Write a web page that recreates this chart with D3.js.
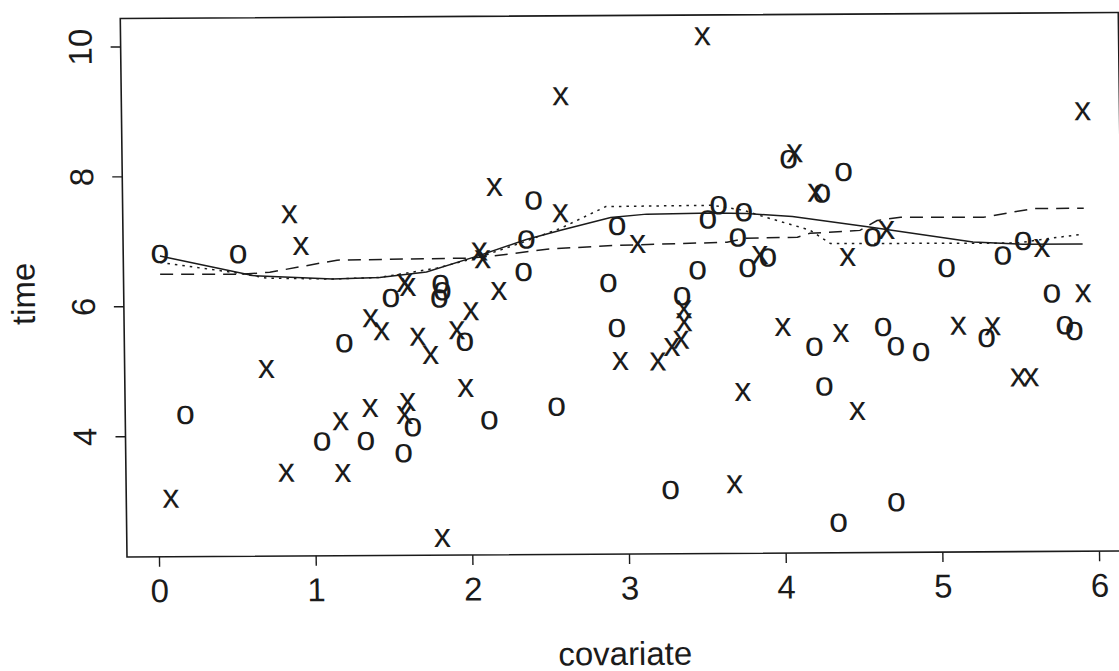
<!DOCTYPE html>
<html>
<head>
<meta charset="utf-8">
<script src="https://cdn.jsdelivr.net/npm/d3@7"></script>
<style>
  html, body { margin: 0; padding: 0; background: #ffffff; }
  svg { display: block; }
</style>
</head>
<body>
<svg id="chart" width="1119" height="671"></svg>
<script>
// Observations marked "o"
const oCov  = [0.03, 0.18, 0.53, 1.05, 1.20, 1.33, 1.50, 1.82, 1.83, 1.81, 1.63, 1.57, 1.97, 2.12,
               2.42, 2.37, 2.35, 2.55, 2.89, 2.94, 2.95, 3.27, 3.36, 3.46, 3.53, 3.60, 3.76, 3.72,
               3.78, 3.91, 4.05, 4.20, 4.26, 4.26, 4.34, 4.40, 4.58, 4.64, 4.72, 4.71, 4.88, 5.05,
               5.30, 5.41, 5.54, 5.72, 5.80, 5.86];
const oTime = [6.80, 4.32, 6.79, 3.90, 5.41, 3.90, 6.10, 6.31, 6.20, 6.09, 4.11, 3.71, 5.42, 4.21,
               7.59, 6.99, 6.49, 4.41, 6.31, 5.62, 7.19, 3.12, 6.10, 6.50, 7.28, 7.50, 7.39, 7.00,
               6.53, 6.69, 8.20, 5.31, 7.67, 4.70, 2.60, 8.00, 6.99, 5.61, 5.31, 2.91, 5.22, 6.51,
               5.43, 6.70, 6.92, 6.11, 5.62, 5.53];

// Observations marked "x"
const xCov  = [0.08, 0.70, 0.86, 0.93, 0.82, 1.17, 1.18, 1.36, 1.37, 1.44, 1.59, 1.61, 1.67, 1.75,
               1.60, 1.58, 1.92, 2.01, 1.97, 1.81, 2.07, 2.09, 2.19, 2.17, 2.60, 2.59, 2.96, 3.08,
               3.20, 3.29, 3.35, 3.37, 3.37, 3.51, 3.74, 3.68, 3.86, 4.00, 4.09, 4.22, 4.37, 4.42,
               4.47, 4.67, 5.12, 5.34, 5.66, 5.50, 5.58, 5.92, 5.93];
const xTime = [3.03, 5.02, 7.40, 6.91, 3.42, 4.21, 3.41, 4.41, 5.79, 5.59, 6.33, 6.27, 5.50, 5.22,
               4.50, 4.30, 5.60, 5.89, 4.71, 2.40, 6.81, 6.69, 6.20, 7.80, 9.19, 7.39, 5.11, 6.91,
               5.10, 5.32, 5.43, 5.70, 5.90, 10.10, 4.62, 3.20, 6.73, 5.62, 8.29, 7.68, 5.52, 6.69,
               4.32, 7.10, 5.62, 5.61, 6.81, 4.82, 4.82, 6.11, 8.91];

// Smoothed curves
const solidCov   = [0.03, 0.62, 1.13, 1.43, 1.73, 2.07, 2.37, 2.59, 2.91, 3.14, 3.56, 3.78, 4.07, 4.56, 5.22, 5.54, 5.92];
const solidTime  = [6.77, 6.46, 6.40, 6.42, 6.50, 6.75, 6.99, 7.13, 7.32, 7.37, 7.38, 7.37, 7.32, 7.15, 6.91, 6.87, 6.87];

const dashedCov  = [0.03, 0.54, 0.73, 1.16, 2.01, 2.16, 2.50, 2.92, 3.65, 3.77, 4.10, 4.18, 4.50, 4.61, 4.76, 5.29, 5.46, 5.61, 5.93];
const dashedTime = [6.49, 6.48, 6.51, 6.69, 6.71, 6.74, 6.84, 6.89, 6.93, 6.99, 7.00, 7.06, 7.10, 7.25, 7.30, 7.29, 7.36, 7.42, 7.42];

const dottedCov  = [0.03, 0.50, 0.71, 1.13, 1.43, 1.80, 2.09, 2.35, 2.59, 2.88, 3.56, 3.76, 3.86, 4.18, 4.31, 5.50, 5.71, 5.92];
const dottedTime = [6.67, 6.51, 6.42, 6.40, 6.42, 6.56, 6.74, 6.95, 7.16, 7.49, 7.50, 7.42, 7.34, 7.11, 6.90, 6.89, 6.96, 7.02];

const xTicks = [0, 1, 2, 3, 4, 5, 6];
const yTicks = [4, 6, 8, 10];
const xTitle = "covariate";
const yTitle = "time";

const ink = "#1b1b1b";
const font = "'Liberation Sans', Arial, Helvetica, sans-serif";
const labelSize = 33;
const glyphSize = 34;

const svg = d3.select("#chart");

// the whole figure sits slightly askew on the page
const root = svg.append("g")
  .attr("transform", "matrix(1,-0.006,0.0125,1,-6.96,0.76)");

const x = d3.scaleLinear().domain([-0.204, 6.166]).range([127, 1125]);
const y = d3.scaleLinear().domain([2.14, 10.43]).range([557, 18.5]);

// plot frame
root.append("rect")
  .attr("x", x(-0.204)).attr("y", y(10.43))
  .attr("width", x(6.166) - x(-0.204)).attr("height", y(2.14) - y(10.43))
  .attr("fill", "none").attr("stroke", ink).attr("stroke-width", 1.6);

// bottom axis
const xAxis = root.append("g")
  .attr("transform", `translate(0,${y(2.14)})`)
  .call(d3.axisBottom(x).tickValues(xTicks).tickSize(10).tickPadding(12).tickFormat(d3.format("d")));
xAxis.select(".domain").remove();
xAxis.selectAll(".tick line").attr("stroke", ink).attr("stroke-width", 1.4);
xAxis.selectAll(".tick text")
  .attr("fill", ink).attr("font-family", font).attr("font-size", labelSize);

// left axis with labels turned parallel to it
const yAxis = root.append("g")
  .attr("transform", `translate(${x(-0.204)},0)`)
  .call(d3.axisLeft(y).tickValues(yTicks).tickSize(10).tickFormat(d3.format("d")));
yAxis.select(".domain").remove();
yAxis.selectAll(".tick line").attr("stroke", ink).attr("stroke-width", 1.4);
yAxis.selectAll(".tick text")
  .attr("fill", ink).attr("font-family", font).attr("font-size", labelSize)
  .attr("x", null).attr("dy", null)
  .attr("text-anchor", "middle")
  .attr("transform", "translate(-29,0) rotate(-90)");

// axis titles
root.append("text")
  .attr("x", 624).attr("y", 668)
  .attr("text-anchor", "middle")
  .attr("font-family", font).attr("font-size", labelSize).attr("fill", ink)
  .text(xTitle);

root.append("text")
  .attr("transform", `translate(38,${y(6.2)}) rotate(-90)`)
  .attr("text-anchor", "middle")
  .attr("font-family", font).attr("font-size", labelSize).attr("fill", ink)
  .text(yTitle);

// curves
const curves = [
  { cov: solidCov,  time: solidTime,  dash: null },
  { cov: dashedCov, time: dashedTime, dash: "13,8" },
  { cov: dottedCov, time: dottedTime, dash: "2.5,5" }
];
const line = d3.line().x(d => x(d[0])).y(d => y(d[1]));
curves.forEach(c => {
  root.append("path")
    .datum(c.cov.map((v, i) => [v, c.time[i]]))
    .attr("d", line)
    .attr("fill", "none")
    .attr("stroke", ink)
    .attr("stroke-width", 1.5)
    .attr("stroke-dasharray", c.dash);
});

// point symbols drawn as letters, centred on each observation
function drawGlyphs(cov, time, ch) {
  root.append("g").selectAll("text")
    .data(cov.map((v, i) => [v, time[i]]))
    .join("text")
    .attr("x", d => x(d[0]))
    .attr("y", d => y(d[1]) + 0.26 * glyphSize)
    .attr("text-anchor", "middle")
    .attr("font-family", font).attr("font-size", glyphSize).attr("fill", ink)
    .text(ch);
}
drawGlyphs(oCov, oTime, "o");
drawGlyphs(xCov, xTime, "x");
</script>
</body>
</html>
